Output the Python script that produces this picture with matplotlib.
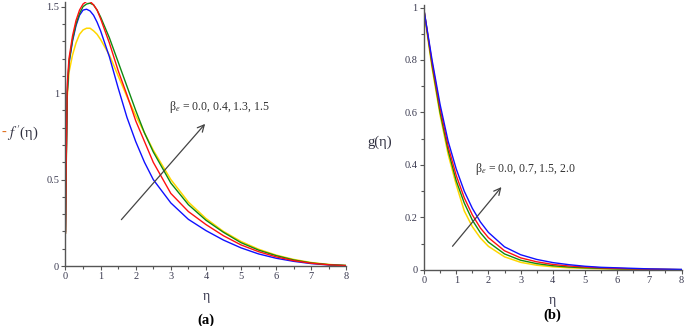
import matplotlib
matplotlib.use("Agg")
import matplotlib.pyplot as plt
from matplotlib.ticker import MultipleLocator

plt.rcParams['font.family'] = ['Liberation Serif', 'DejaVu Serif']
plt.rcParams['mathtext.fontset'] = 'stix'

# panel (a): -f'(eta) for beta_e = 0.0, 0.4, 1.3, 1.5
eta_a = [0, 0.02, 0.05, 0.1, 0.2, 0.3, 0.4, 0.5, 0.6, 0.7, 0.8, 0.9, 1.0, 1.25,
         1.5, 1.75, 2.0, 2.25, 2.5, 3.0, 3.5, 4.0, 4.5, 5.0, 5.5, 6.0, 6.5, 7.0, 7.5, 8.0]
fa_blue = [0.2, 0.6, 1.0, 1.17, 1.30, 1.39, 1.45, 1.48, 1.485, 1.475, 1.45, 1.41, 1.36, 1.21,
           1.03, 0.86, 0.72, 0.60, 0.50, 0.365, 0.27, 0.205, 0.15, 0.105, 0.07, 0.045, 0.027, 0.014, 0.006, 0.002]
fa_red = [0.19, 0.6, 1.05, 1.2, 1.33, 1.42, 1.48, 1.515, 1.53, 1.53, 1.51, 1.48, 1.43, 1.29,
          1.13, 0.99, 0.84, 0.72, 0.60, 0.42, 0.315, 0.24, 0.175, 0.122, 0.083, 0.053, 0.031, 0.016, 0.007, 0.002]
fa_green = [0.19, 0.55, 1.0, 1.18, 1.31, 1.40, 1.46, 1.50, 1.515, 1.52, 1.51, 1.48, 1.44, 1.32,
            1.18, 1.04, 0.90, 0.77, 0.66, 0.48, 0.355, 0.265, 0.195, 0.135, 0.092, 0.06, 0.035, 0.018, 0.008, 0.003]
fa_yellow = [0.2, 0.6, 0.98, 1.12, 1.22, 1.29, 1.34, 1.365, 1.375, 1.375, 1.36, 1.34, 1.31, 1.22,
             1.10, 0.98, 0.87, 0.77, 0.67, 0.50, 0.37, 0.275, 0.20, 0.142, 0.097, 0.063, 0.038, 0.02, 0.009, 0.003]

# panel (b): g(eta) for beta_e = 0.0, 0.7, 1.5, 2.0
eta_b = [0, 0.25, 0.5, 0.75, 1.0, 1.25, 1.5, 1.75, 2.0, 2.5, 3.0, 3.5, 4.0,
         4.5, 5.0, 5.5, 6.0, 6.5, 7.0, 7.5, 8.0]
g_blue = [0.99, 0.80, 0.63, 0.49, 0.385, 0.30, 0.235, 0.183, 0.143, 0.088, 0.058, 0.040, 0.028,
          0.020, 0.014, 0.010, 0.008, 0.006, 0.004, 0.003, 0.002]
g_red = [0.99, 0.79, 0.615, 0.47, 0.36, 0.275, 0.21, 0.16, 0.123, 0.073, 0.046, 0.031, 0.021,
         0.015, 0.011, 0.008, 0.006, 0.004, 0.003, 0.002, 0.001]
g_green = [0.99, 0.78, 0.60, 0.455, 0.34, 0.255, 0.19, 0.142, 0.106, 0.061, 0.037, 0.024, 0.016,
           0.011, 0.008, 0.006, 0.004, 0.003, 0.002, 0.0015, 0.001]
g_yellow = [0.985, 0.77, 0.59, 0.44, 0.325, 0.225, 0.165, 0.122, 0.09, 0.05, 0.029, 0.018, 0.012,
            0.008, 0.006, 0.004, 0.003, 0.002, 0.0015, 0.001, 0.0005]

blue, red, green, yellow = '#1010ff', '#ff1010', '#108a10', '#ffd700'
tick_col = '#3a3a50'


def style_axes(ax, ymax, ymajor):
    ax.set_xlim(0, 8)
    ax.set_ylim(0, ymax)
    for s in ['top', 'right']:
        ax.spines[s].set_visible(False)
    for s in ['left', 'bottom']:
        ax.spines[s].set_color('#555555')
        ax.spines[s].set_linewidth(1.0)
    ax.xaxis.set_major_locator(MultipleLocator(1))
    ax.xaxis.set_minor_locator(MultipleLocator(0.5))
    ax.yaxis.set_major_locator(MultipleLocator(ymajor))
    ax.yaxis.set_minor_locator(MultipleLocator(0.1))
    ax.tick_params(which='both', colors='#555555', labelcolor=tick_col, labelsize=7.5,
                   direction='out', length=3, width=0.8, pad=1.5)
    ax.tick_params(which='minor', length=2)
    ax.set_xlabel('η', fontsize=10, color=tick_col, labelpad=6)


fig = plt.figure(figsize=(6.85, 3.26), dpi=100)

ax1 = fig.add_axes([0.0956, 0.184, 0.41, 0.81])
ax1.plot(eta_a, fa_yellow, color=yellow, lw=1.1)
ax1.plot(eta_a, fa_blue, color=blue, lw=1.0)
ax1.plot(eta_a, fa_green, color=green, lw=1.0)
ax1.plot(eta_a, fa_red, color=red, lw=1.0)
style_axes(ax1, 1.527, 0.5)
ax1.set_yticks([0, 0.5, 1, 1.5])
ax1.set_yticklabels(['0', '0.5', '1', '1.5'])
ax1.text(-0.228, 0.505, "-", transform=ax1.transAxes, fontsize=10.5,
         color='#e07020', ha='left', va='center')
ax1.text(-0.208, 0.505, r"$f^{\,\prime}$(η)", transform=ax1.transAxes, fontsize=10.5,
         color='#303040', ha='left', va='center')
ax1.annotate('', xy=(4.03, 0.834), xytext=(1.54, 0.256),
             arrowprops=dict(arrowstyle='->', color='#444444', lw=0.9, mutation_scale=12))
ax1.text(2.95, 0.92, r"β$_e$ = 0.0, 0.4, 1.3, 1.5", fontsize=8.5, color='#303030',
         ha='left', va='center')
ax1.text(0.5, -0.205, '(a)', transform=ax1.transAxes, fontsize=10.5, fontweight='bold',
         ha='center', va='center')

ax2 = fig.add_axes([0.619, 0.172, 0.376, 0.813])
ax2.plot(eta_b, g_yellow, color=yellow, lw=1.1)
ax2.plot(eta_b, g_green, color=green, lw=1.0)
ax2.plot(eta_b, g_red, color=red, lw=1.0)
ax2.plot(eta_b, g_blue, color=blue, lw=1.0)
style_axes(ax2, 1.01, 0.2)
ax2.set_yticks([0, 0.2, 0.4, 0.6, 0.8, 1.0])
ax2.set_yticklabels(['0', '0.2', '0.4', '0.6', '0.8', '1'])
ax2.text(-0.22, 0.48, "g(η)", transform=ax2.transAxes, fontsize=10.5,
         color='#303040', ha='left', va='center')
ax2.annotate('', xy=(2.46, 0.324), xytext=(0.83, 0.082),
             arrowprops=dict(arrowstyle='->', color='#444444', lw=0.9, mutation_scale=12))
ax2.text(1.58, 0.385, r"β$_e$ = 0.0, 0.7, 1.5, 2.0", fontsize=8.5, color='#303030',
         ha='left', va='center')
ax2.text(0.5, -0.17, '(b)', transform=ax2.transAxes, fontsize=10.5, fontweight='bold',
         ha='center', va='center')

fig.savefig('out.png', dpi=100)
